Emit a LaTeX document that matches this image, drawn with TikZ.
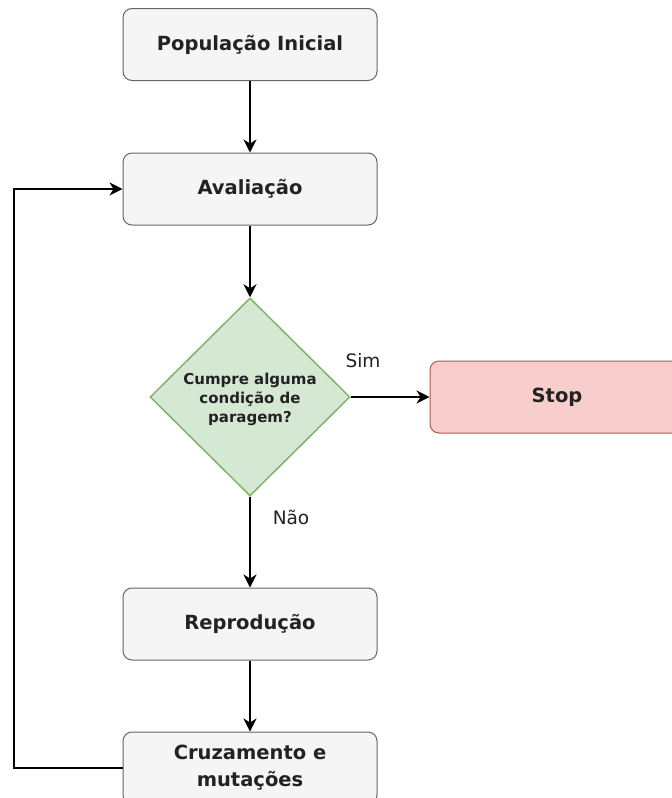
\documentclass[tikz,border=0pt]{standalone}
\usepackage{fontspec}
\setmainfont{DejaVu Sans}
\usetikzlibrary{shapes.geometric,arrows.meta}
\definecolor{boxfill}{HTML}{F5F5F5}
\definecolor{boxline}{HTML}{666666}
\definecolor{decfill}{HTML}{D5E8D4}
\definecolor{decline}{HTML}{82B366}
\definecolor{stopfill}{HTML}{F8CECC}
\definecolor{stopline}{HTML}{B85450}
\definecolor{txt}{HTML}{222222}
\begin{document}
\begin{tikzpicture}[x=1pt,y=-1pt,
  procbox/.style={draw=boxline,fill=boxfill,line width=1pt,rounded corners=9pt,
    minimum width=254pt,minimum height=72pt,inner sep=0pt,align=center,
    font=\fontsize{19.5}{27}\selectfont\bfseries,text=txt},
  stopbox/.style={procbox,draw=stopline,fill=stopfill},
  decshape/.style={draw=decline,fill=decfill,line width=1.5pt,diamond,aspect=1,
    minimum width=200pt,minimum height=198pt,inner sep=0pt},
  dectext/.style={align=center,font=\fontsize{15}{19}\selectfont\bfseries,text=txt},
  conn/.style={draw=black,line width=1.4pt,-{Stealth[length=13pt,width=13pt,inset=4pt]}},
  lbl/.style={font=\fontsize{18.5}{22}\selectfont,text=txt}]
\useasboundingbox (0,0) rectangle (672,798);
\clip (0,0) rectangle (672,798);
\node[procbox] (pop) at (250,44.5) {População Inicial};
\node[procbox] (aval) at (250,189) {Avaliação};
\node[decshape] (dec) at (250,397) {};
\node[dectext] (dectxt) at (250,399) {Cumpre alguma\\condição de\\paragem?};
\node[stopbox] (stop) at (557,397) {Stop};
\node[procbox] (rep) at (250,624) {Reprodução};
\node[procbox] (cruz) at (250,768) {Cruzamento e\\mutações};
\coordinate (lb) at (14,768);
\coordinate (lt) at (14,189);
\draw[conn] (pop) -- (aval);
\draw[conn] (aval) -- (dec.north);
\draw[conn] (dec.east) -- (stop.west);
\draw[conn] (dec.south) -- (rep);
\draw[conn] (rep) -- (cruz);
\draw[conn] (cruz.west) -- (lb) -- (lt) -- (aval.west);
\node[lbl] (sim) at (363,361) {Sim};
\node[lbl] (nao) at (291,517) {Não};
\end{tikzpicture}
\end{document}
